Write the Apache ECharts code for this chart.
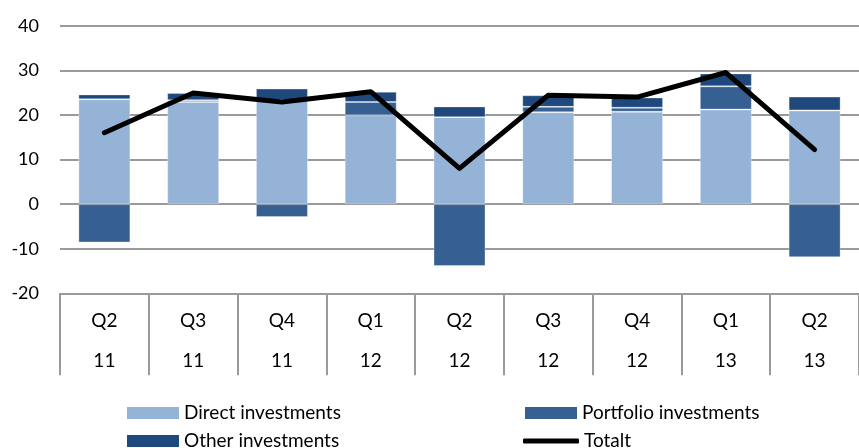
<!DOCTYPE html>
<html lang="en" style="height: 100%">

<head>
  <meta charset="utf-8">
</head>

<body style="height: 100%; margin: 0">
  <div id="container" style="width: 859px; height: 448px"></div>

  <script type="text/javascript" src="https://fastly.jsdelivr.net/npm/echarts@6.0.0/dist/echarts.min.js"></script>

  <script type="text/javascript">
    // quarters and years on the category axis
    const quarters = ['Q2', 'Q3', 'Q4', 'Q1', 'Q2', 'Q3', 'Q4', 'Q1', 'Q2'];
    const years = ['11', '11', '11', '12', '12', '12', '12', '13', '13'];
    // series values
    const direct = [23.5, 22.9, 23.3, 19.9, 19.5, 20.6, 20.7, 21.2, 21.0];
    const portfolio = [-8.6, 0.4, -2.9, 3.0, -13.9, 1.2, 0.9, 5.2, -11.9];
    const other = [1.1, 1.6, 2.6, 2.3, 2.4, 2.6, 2.3, 2.9, 3.1];
    const totalt = [16.0, 24.9, 22.9, 25.2, 8.0, 24.4, 24.0, 29.5, 12.2];
    const yTicks = { min: -20, max: 40, step: 10 };

    const categories = quarters.map((q, i) => q + '\n' + years[i]);

    const font = 'Lato';
    const gridGrey = '#9a9a9a';
    const barBorder = { borderColor: 'rgba(255,255,255,0.3)', borderWidth: 1 };

    var dom = document.getElementById('container');
    var myChart = echarts.init(dom, null, { renderer: 'canvas' });

    // one legend per item so they sit on a 2x2 grid
    function legendAt(name, left, top, extra) {
      return Object.assign({
        data: [name],
        left: left,
        top: top,
        padding: 0,
        icon: 'rect',
        itemWidth: 52,
        itemHeight: 12,
        itemStyle: { borderWidth: 0 },
        textStyle: { fontFamily: font, fontSize: 19, color: '#000', lineHeight: 20 },
        selectedMode: false
      }, extra || {});
    }

    var option = {
      animation: false,
      textStyle: { fontFamily: font },
      legend: [
        legendAt('Direct investments', 127, 403),
        legendAt('Portfolio investments', 525, 403),
        legendAt('Other investments', 127, 431),
        legendAt('Totalt', 523, 431, {
          icon: 'roundRect',
          itemWidth: 56,
          itemHeight: 5,
          itemStyle: { color: '#000', borderWidth: 0 }
        })
      ],
      grid: {
        left: 60,
        right: -13,
        top: 25.7,
        bottom: 154.7
      },
      xAxis: {
        type: 'category',
        data: categories,
        axisLine: { show: true, onZero: false, lineStyle: { color: gridGrey, width: 2 } },
        axisTick: {
          show: true,
          interval: 0,
          length: 82,
          lineStyle: { color: gridGrey, width: 2 }
        },
        axisLabel: {
          interval: 0,
          margin: 8,
          fontFamily: font,
          fontSize: 19,
          lineHeight: 40,
          color: '#000'
        }
      },
      yAxis: {
        type: 'value',
        min: yTicks.min,
        max: yTicks.max,
        interval: yTicks.step,
        axisLine: { show: false },
        axisTick: { show: false },
        axisLabel: { margin: 21, fontFamily: font, fontSize: 18, color: '#000' },
        splitLine: { lineStyle: { color: gridGrey, width: 2 } }
      },
      series: [
        {
          name: 'Direct investments',
          type: 'bar',
          stack: 'total',
          barWidth: 52,
          itemStyle: Object.assign({ color: '#95b3d7' }, barBorder),
          data: direct
        },
        {
          name: 'Portfolio investments',
          type: 'bar',
          stack: 'total',
          itemStyle: Object.assign({ color: '#376092' }, barBorder),
          data: portfolio
        },
        {
          name: 'Other investments',
          type: 'bar',
          stack: 'total',
          itemStyle: Object.assign({ color: '#1f497d' }, barBorder),
          data: other
        },
        {
          name: 'Totalt',
          type: 'line',
          symbol: 'none',
          z: 5,
          lineStyle: { color: '#000', width: 5, cap: 'round', join: 'round' },
          itemStyle: { color: '#000' },
          data: totalt
        }
      ]
    };

    myChart.setOption(option);
    window.addEventListener('resize', myChart.resize);
  </script>
</body>

</html>
